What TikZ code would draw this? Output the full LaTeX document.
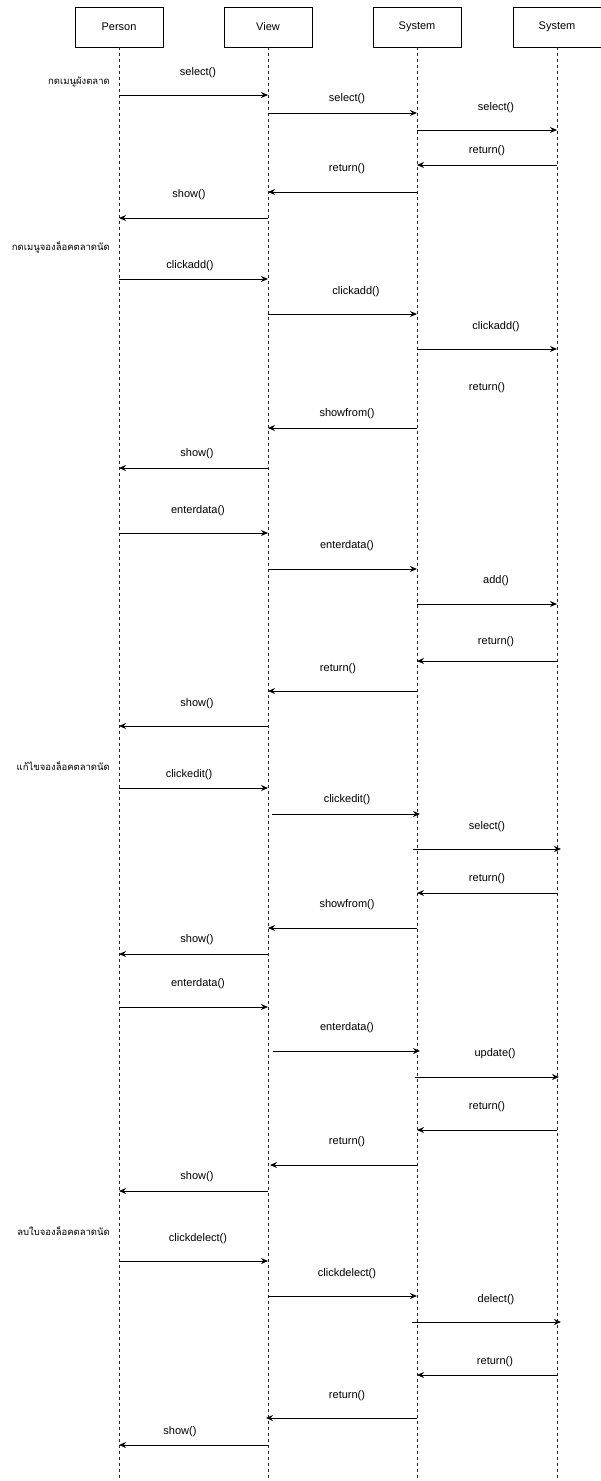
\documentclass[tikz,border=0pt]{standalone}
\usepackage{fontspec}
\setmainfont{Liberation Sans}
\newfontfamily\thaifont[Script=Thai]{Loma}
\usetikzlibrary{arrows.meta}

\tikzset{
	head/.style={draw, minimum width=88pt, minimum height=40pt, inner sep=0pt, font=\fontsize{11}{13}\selectfont},
	life/.style={black!85, line width=0.8pt, dash pattern=on 3pt off 3pt},
	msg/.style={-{Stealth[length=7pt,width=6pt]}, line width=1pt},
	lbl/.style={inner sep=0pt, font=\fontsize{11}{13}\selectfont},
	note/.style={anchor=east, inner sep=0pt, font=\thaifont\fontsize{9.5}{11}\selectfont},
}

\begin{document}
\begin{tikzpicture}[x=1pt,y=-1pt]
	\useasboundingbox (0,0) rectangle (601,1481);
	% heads and lifelines
	\node [head] (person) at (119,27) {Person};
	\node [head] (view) at (268,27) {View};
	\node [head] (sys) at (417,27) {System};
	\node [head] (db) at (557,27) {System};
	\foreach \n in {person,view,sys,db}
		\draw [life] (\n.south) -- (\n |- 0,1481);

	% market plan
	\node [note] (t1) at (110,82) {กดเมนูผังตลาด};
	\node [lbl] (a1) at (198,73) {select()};\draw [msg] (person |- 0,95) -- (view |- 0,95);
	\node [lbl] (a2) at (347,99) {select()};\draw [msg] (view |- 0,113) -- (sys |- 0,113);
	\node [lbl] (a3) at (496,108) {select()};\draw [msg] (sys |- 0,130) -- (db |- 0,130);
	\node [lbl] (a4) at (487,151) {return()};\draw [msg] (db |- 0,165) -- (sys |- 0,165);
	\node [lbl] (a5) at (347,169) {return()};\draw [msg] (sys |- 0,192) -- (view |- 0,192);
	\node [lbl] (a6) at (189,195) {show()};\draw [msg] (view |- 0,218) -- (person |- 0,218);

	% booking a stall
	\node [note] (t2) at (110,247) {กดเมนูจองล็อคตลาดนัด};
	\node [lbl] (b1) at (190,266) {clickadd()};\draw [msg] (person |- 0,279) -- (view |- 0,279);
	\node [lbl] (b2) at (356,292) {clickadd()};\draw [msg] (view |- 0,314) -- (sys |- 0,314);
	\node [lbl] (b3) at (496,327) {clickadd()};\draw [msg] (sys |- 0,349) -- (db |- 0,349);
	\node [lbl] (b4) at (487,388) {return()};
	\node [lbl] (b5) at (347,414) {showfrom()};\draw [msg] (sys |- 0,428) -- (view |- 0,428);
	\node [lbl] (b6) at (197,454) {show()};\draw [msg] (view |- 0,468) -- (person |- 0,468);
	\node [lbl] (b7) at (198,511) {enterdata()};\draw [msg] (person |- 0,533) -- (view |- 0,533);
	\node [lbl] (b8) at (347,546) {enterdata()};\draw [msg] (view |- 0,569) -- (sys |- 0,569);
	\node [lbl] (b9) at (496,581) {add()};\draw [msg] (sys |- 0,604) -- (db |- 0,604);
	\node [lbl] (b10) at (496,642) {return()};\draw [msg] (db |- 0,661) -- (sys |- 0,661);
	\node [lbl] (b11) at (338,669) {return()};\draw [msg] (sys |- 0,691) -- (view |- 0,691);
	\node [lbl] (b12) at (197,704) {show()};\draw [msg] (view |- 0,726) -- (person |- 0,726);

	% editing a booking
	\node [note] (t3) at (110,766) {แก้ไขจองล็อคตลาดนัด};
	\node [lbl] (c1) at (189,775) {clickedit()};\draw [msg] (person |- 0,788) -- (view |- 0,788);
	\node [lbl] (c2) at (347,800) {clickedit()};\draw [msg] ([xshift=4pt]view |- 0,814) -- ([xshift=3pt]sys |- 0,814);
	\node [lbl] (c3) at (487,827) {select()};\draw [msg] ([xshift=-4pt]sys |- 0,849) -- ([xshift=4pt]db |- 0,849);
	\node [lbl] (c4) at (487,879) {return()};\draw [msg] (db |- 0,893) -- (sys |- 0,893);
	\node [lbl] (c5) at (347,905) {showfrom()};\draw [msg] (sys |- 0,928) -- (view |- 0,928);
	\node [lbl] (c6) at (197,940) {show()};\draw [msg] (view |- 0,954) -- (person |- 0,954);
	\node [lbl] (c7) at (198,984) {enterdata()};\draw [msg] (person |- 0,1007) -- (view |- 0,1007);
	\node [lbl] (c8) at (347,1028) {enterdata()};\draw [msg] ([xshift=5pt]view |- 0,1051) -- ([xshift=3pt]sys |- 0,1051);
	\node [lbl] (c9) at (495,1054) {update()};\draw [msg] ([xshift=-2pt]sys |- 0,1077) -- ([xshift=2pt]db |- 0,1077);
	\node [lbl] (c10) at (487,1107) {return()};\draw [msg] (db |- 0,1130) -- (sys |- 0,1130);
	\node [lbl] (c11) at (347,1142) {return()};\draw [msg] (sys |- 0,1165) -- ([xshift=2pt]view |- 0,1165);
	\node [lbl] (c12) at (197,1177) {show()};\draw [msg] (view |- 0,1191) -- (person |- 0,1191);

	% deleting a booking
	\node [note] (t4) at (110,1231) {ลบใบจองล็อคตลาดนัด};
	\node [lbl] (d1) at (198,1239) {clickdelect()};\draw [msg] (person |- 0,1261) -- (view |- 0,1261);
	\node [lbl] (d2) at (347,1274) {clickdelect()};\draw [msg] (view |- 0,1296) -- (sys |- 0,1296);
	\node [lbl] (d3) at (496,1300) {delect()};\draw [msg] ([xshift=-5pt]sys |- 0,1322) -- ([xshift=4pt]db |- 0,1322);
	\node [lbl] (d4) at (495,1362) {return()};\draw [msg] (db |- 0,1375) -- (sys |- 0,1375);
	\node [lbl] (d5) at (347,1396) {return()};\draw [msg] (sys |- 0,1418) -- ([xshift=-2pt]view |- 0,1418);
	\node [lbl] (d6) at (180,1432) {show()};\draw [msg] (view |- 0,1445) -- (person |- 0,1445);
\end{tikzpicture}
\end{document}
